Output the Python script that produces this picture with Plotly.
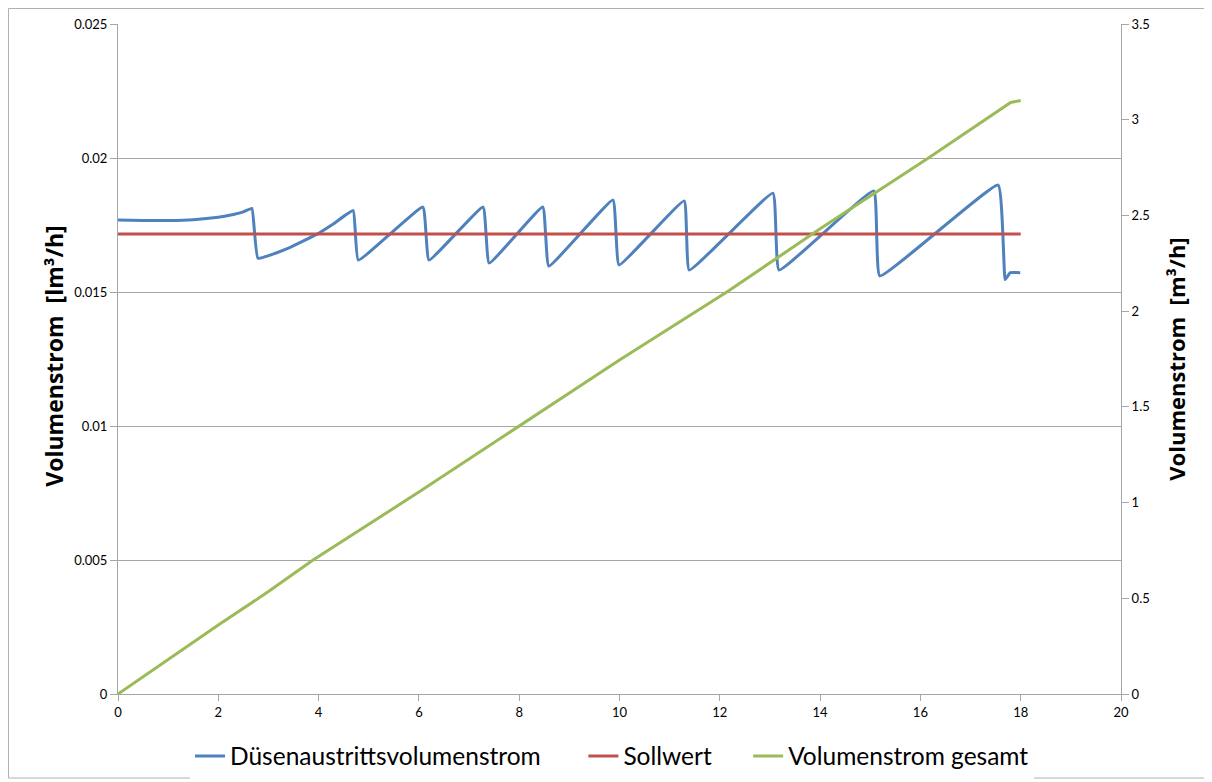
import plotly.graph_objects as go

# Düsenaustrittsvolumenstrom (left axis, lm³/h)
blue_x = [0, 0.5, 1.0, 1.5, 2.0, 2.3, 2.5, 2.67, 2.79, 3.4, 3.97, 4.3, 4.69,
          4.79, 6.08, 6.2, 7.28, 7.40, 8.47, 8.59, 9.87, 9.99, 11.29, 11.39,
          13.06, 13.18, 15.07, 15.19, 17.55, 17.69, 17.79, 17.99]
blue_y = [0.01769, 0.01767, 0.01767, 0.01770, 0.01779, 0.01789, 0.01799, 0.01812, 0.01626,
          0.01664, 0.01716, 0.01755, 0.01804,
          0.01619, 0.01817, 0.01619, 0.01817, 0.01608, 0.01817, 0.01597,
          0.01843, 0.01601, 0.01840, 0.01582, 0.01869, 0.01582, 0.01877,
          0.01560, 0.01899, 0.01546, 0.01572, 0.01572]

# Sollwert (left axis)
red_x = [0, 18]
red_y = [0.01716, 0.01716]

# Volumenstrom gesamt (right axis, m³/h)
green_x = [0, 2, 3, 3.89, 6, 7.98, 10, 12.14, 14, 16.13, 17, 17.8, 18]
green_y = [0, 0.36, 0.535, 0.70, 1.055, 1.395, 1.745, 2.10, 2.43, 2.795, 2.95, 3.09, 3.10]

series_names = ["Düsenaustrittsvolumenstrom", "Sollwert", "Volumenstrom gesamt"]

x_ticks = list(range(0, 21, 2))
left_ticks = [0, 0.005, 0.01, 0.015, 0.02, 0.025]
right_ticks = [0, 0.5, 1, 1.5, 2, 2.5, 3, 3.5]

FONT = "Lato, 'Open Sans', sans-serif"
TFONT = "'Open Sans', Lato, sans-serif"
GRID = "#a6a6a6"

# page body has an 8px margin; figure sized to fit the window
W, H = 1204, 774
L, R, T, B = 110, 91, 16, 88
PW, PH = W - L - R, H - T - B

def px_x(px):
    return (px - 8 - L) / PW

def px_y(py):
    return (H - B + 8 - py) / PH

fig = go.Figure()
fig.add_trace(go.Scatter(x=blue_x, y=blue_y, mode="lines", name=series_names[0] + "\u00a0" * 6,
                         line=dict(color="#4F81BD", width=3, shape="spline", smoothing=0.3), yaxis="y"))
fig.add_trace(go.Scatter(x=red_x, y=red_y, mode="lines", name=series_names[1] + "\u00a0" * 5,
                         line=dict(color="#C0504D", width=3), yaxis="y"))
fig.add_trace(go.Scatter(x=green_x, y=green_y, mode="lines", name=series_names[2],
                         line=dict(color="#9BBB59", width=3), yaxis="y2"))

fig.update_layout(
    width=W, height=H,
    margin=dict(l=L, r=R, t=T, b=B, autoexpand=False),
    paper_bgcolor="white", plot_bgcolor="white",
    font=dict(family=FONT, color="#000000", size=13),
    showlegend=True,
    legend=dict(orientation="h", xref="container", yref="container",
                x=(190 - 8) / W, y=1 - (756 - 8) / H, xanchor="left", yanchor="middle",
                font=dict(size=24.5, family=FONT), itemwidth=30, traceorder="normal"),
    xaxis=dict(range=[0, 20], tickvals=x_ticks, showgrid=False, zeroline=False,
               showline=True, linecolor=GRID, linewidth=1,
               ticks="outside", ticklen=6, tickcolor=GRID,
               tickfont=dict(size=13), fixedrange=True),
    yaxis=dict(range=[0, 0.025], tickvals=left_ticks, ticktext=["0", "0.005", "0.01", "0.015", "0.02", "0.025"],
               showgrid=True, gridcolor=GRID, gridwidth=1, zeroline=False,
               showline=True, linecolor=GRID, linewidth=1,
               ticks="outside", ticklen=7, tickcolor=GRID,
               tickfont=dict(size=13),
               title=dict(text="<b>\u00a0Volumenstrom  [lm³/h]</b>", font=dict(size=23, family=TFONT), standoff=4)),
    yaxis2=dict(range=[0, 3.5], tickvals=right_ticks, ticktext=["0", "0.5", "1", "1.5", "2", "2.5", "3", "3.5"],
                overlaying="y", side="right", showgrid=False, zeroline=False,
                showline=True, linecolor=GRID, linewidth=1,
                ticks="outside", ticklen=7, tickcolor=GRID,
                tickfont=dict(size=13),
                title=dict(text="<b>Volumenstrom  [m³/h]</b>", font=dict(size=22, family=TFONT), standoff=20)),
    shapes=[dict(type="rect", xref="paper", yref="paper",
                 x0=px_x(8.5), x1=px_x(1207), y0=px_y(778), y1=px_y(8.5),
                 line=dict(color="#b0b0b0", width=1), fillcolor="rgba(0,0,0,0)", layer="below")],
)

fig.write_html("out.html")
